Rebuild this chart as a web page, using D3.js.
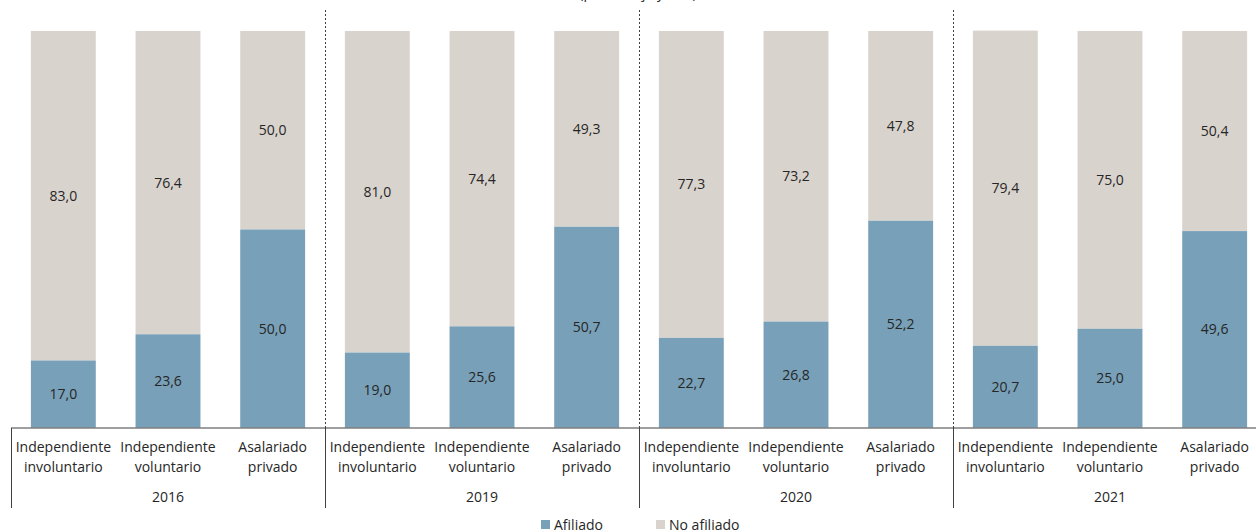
<!DOCTYPE html>
<html>
<head>
<meta charset="utf-8">
<script src="https://cdn.jsdelivr.net/npm/d3@7"></script>
<style>
  body { margin: 0; background: #fff; }
  svg { display: block; font-family: "Open Sans", sans-serif; }
  .val { font-size: 14px; fill: #262626; }
  .cat { font-size: 14px; fill: #262626; }
</style>
</head>
<body>
<svg id="chart"></svg>
<script>
const years = ["2016", "2019", "2020", "2021"];
const categories = [["Independiente", "involuntario"], ["Independiente", "voluntario"], ["Asalariado", "privado"]];
const afiliado = [
  [17.0, 23.6, 50.0],
  [19.0, 25.6, 50.7],
  [22.7, 26.8, 52.2],
  [20.7, 25.0, 49.6]
];
const noAfiliado = [
  [83.0, 76.4, 50.0],
  [81.0, 74.4, 49.3],
  [77.3, 73.2, 47.8],
  [79.4, 75.0, 50.4]
];
const seriesNames = ["Afiliado", "No afiliado"];

(function() {
  const width = 1256, height = 532;
  const colors = ["#78A0B8", "#D9D3CD"];
  const fmt = v => d3.format(".1f")(v).replace(".", ",");

  const svg = d3.select("#chart")
    .attr("width", width)
    .attr("height", height);

  const x0 = d3.scaleBand()
    .domain(years)
    .range([11, 1267]);

  const x1 = d3.scaleBand()
    .domain(d3.range(categories.length))
    .range([0, x0.bandwidth()])
    .paddingInner(0.38)
    .paddingOuter(0.19);

  const y = d3.scaleLinear()
    .domain([0, 100])
    .range([428, 31]);

  // title, mostly above the visible area
  svg.append("text")
    .attr("x", 638)
    .attr("y", -2)
    .attr("text-anchor", "middle")
    .attr("class", "cat")
    .text("(porcentaje y año)");

  const rows = [];
  years.forEach((yr, i) => {
    categories.forEach((c, j) => {
      rows.push({year: yr, cat: j, af: afiliado[i][j], no: noAfiliado[i][j]});
    });
  });

  const bars = svg.append("g").selectAll("g")
    .data(rows)
    .enter()
    .append("g")
    .attr("transform", d => "translate(" + (x0(d.year) + x1(d.cat)) + ",0)");

  bars.append("rect")
    .attr("y", d => y(d.af + d.no))
    .attr("height", d => y(d.af) - y(d.af + d.no))
    .attr("width", x1.bandwidth())
    .attr("fill", colors[1]);

  bars.append("rect")
    .attr("y", d => y(d.af))
    .attr("height", d => y(0) - y(d.af))
    .attr("width", x1.bandwidth())
    .attr("fill", colors[0]);

  bars.append("text")
    .attr("class", "val")
    .attr("x", x1.bandwidth() / 2)
    .attr("y", d => y(d.af / 2))
    .attr("dy", "0.35em")
    .attr("text-anchor", "middle")
    .text(d => fmt(d.af));

  bars.append("text")
    .attr("class", "val")
    .attr("x", x1.bandwidth() / 2)
    .attr("y", d => y(d.af + d.no / 2))
    .attr("dy", "0.35em")
    .attr("text-anchor", "middle")
    .text(d => fmt(d.no));

  // axis line
  svg.append("line")
    .attr("x1", x0.range()[0]).attr("x2", width)
    .attr("y1", y(0)).attr("y2", y(0))
    .attr("stroke", "#7f7f7f")
    .attr("stroke-width", 1.5);

  // group separators
  years.forEach((yr, i) => {
    const gx = Math.round(x0(yr)) + 0.5;
    svg.append("line")
      .attr("x1", gx).attr("x2", gx)
      .attr("y1", y(0)).attr("y2", 508)
      .attr("stroke", "#404040");
    if (i > 0) {
      svg.append("line")
        .attr("x1", gx).attr("x2", gx)
        .attr("y1", 10).attr("y2", y(0))
        .attr("stroke", "#404040")
        .attr("stroke-dasharray", "2,2");
    }
  });

  // category labels
  const labels = svg.append("g");
  rows.forEach(d => {
    const cx = x0(d.year) + x1(d.cat) + x1.bandwidth() / 2;
    const t = labels.append("text")
      .attr("class", "cat")
      .attr("text-anchor", "middle")
      .attr("x", cx)
      .attr("y", 452);
    t.append("tspan").attr("x", cx).text(categories[d.cat][0]);
    t.append("tspan").attr("x", cx).attr("dy", 20).text(categories[d.cat][1]);
  });

  years.forEach(yr => {
    labels.append("text")
      .attr("class", "cat")
      .attr("text-anchor", "middle")
      .attr("x", x0(yr) + x0.bandwidth() / 2)
      .attr("y", 502)
      .text(yr);
  });

  // legend
  const legendX = [541, 656];
  const legend = svg.append("g");
  seriesNames.forEach((name, i) => {
    legend.append("rect")
      .attr("x", legendX[i]).attr("y", 520)
      .attr("width", 9).attr("height", 9)
      .attr("fill", colors[i]);
    legend.append("text")
      .attr("class", "cat")
      .attr("x", legendX[i] + 13)
      .attr("y", 530)
      .text(name);
  });
})();
</script>
</body>
</html>
